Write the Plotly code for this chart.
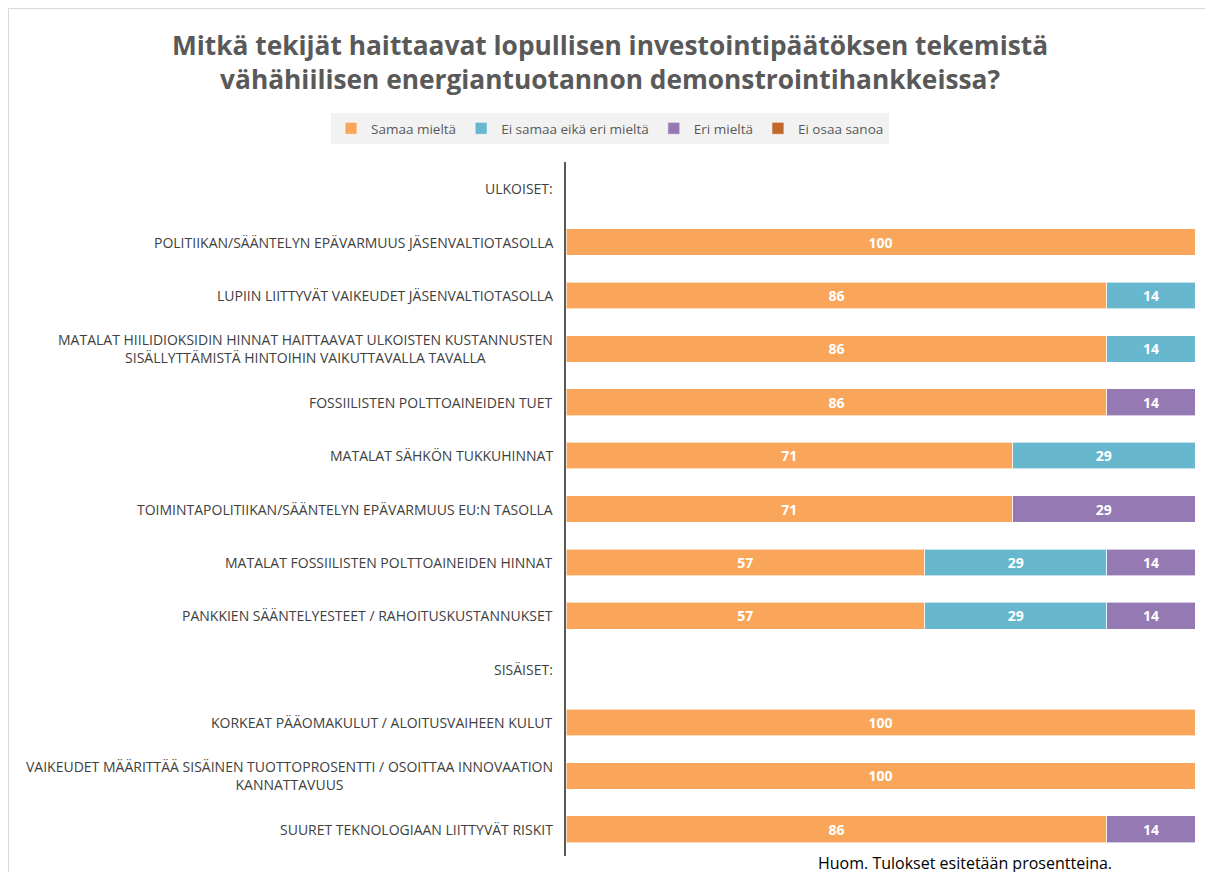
import plotly.graph_objects as go

categories = [
    "ULKOISET:",
    "POLITIIKAN/SÄÄNTELYN EPÄVARMUUS JÄSENVALTIOTASOLLA",
    "LUPIIN LIITTYVÄT VAIKEUDET JÄSENVALTIOTASOLLA",
    "MATALAT HIILIDIOKSIDIN HINNAT HAITTAAVAT ULKOISTEN KUSTANNUSTEN<br>SISÄLLYTTÄMISTÄ HINTOIHIN VAIKUTTAVALLA TAVALLA",
    "FOSSIILISTEN POLTTOAINEIDEN TUET",
    "MATALAT SÄHKÖN TUKKUHINNAT",
    "TOIMINTAPOLITIIKAN/SÄÄNTELYN EPÄVARMUUS EU:N TASOLLA",
    "MATALAT FOSSIILISTEN POLTTOAINEIDEN HINNAT",
    "PANKKIEN SÄÄNTELYESTEET / RAHOITUSKUSTANNUKSET",
    "SISÄISET:",
    "KORKEAT PÄÄOMAKULUT / ALOITUSVAIHEEN KULUT",
    "VAIKEUDET MÄÄRITTÄÄ SISÄINEN TUOTTOPROSENTTI / OSOITTAA INNOVAATION<br>KANNATTAVUUS",
    "SUURET TEKNOLOGIAAN LIITTYVÄT RISKIT",
]

samaa = [None, 100, 86, 86, 86, 71, 71, 57, 57, None, 100, 100, 86]
ei_samaa_eika = [None, None, 14, 14, None, 29, None, 29, 29, None, None, None, None]
eri = [None, None, None, None, 14, None, 29, 14, 14, None, None, None, 14]
ei_osaa = [None] * 13

series = [
    ("Samaa mieltä", samaa, "#F9A65A"),
    ("Ei samaa eikä eri mieltä", ei_samaa_eika, "#67B8CF"),
    ("Eri mieltä", eri, "#9579B3"),
    ("Ei osaa sanoa", ei_osaa, "#C0692A"),
]

FONT = "'Open Sans', Arial, sans-serif"

ids = list(range(len(categories)))

fig = go.Figure()
for name, vals, col in series:
    fig.add_trace(go.Bar(
        y=ids, x=vals, name=name, orientation="h",
        marker=dict(color=col, line=dict(color="rgba(255,255,255,0.6)", width=1)),
        texttemplate="<b>%{x}</b>", textposition="inside",
        insidetextanchor="middle",
        textfont=dict(color="white", size=14, family=FONT),
        hoverinfo="x+name",
    ))

OFF = 8  # page offset of the figure in the browser
W, H = 1213, 872
L, R, T, B = 566 - OFF, 1195 - OFF, 162 - OFF, 856 - OFF
pw, ph = R - L, B - T

def px_x(p):
    return (p - OFF - L) / pw

def px_y(p):
    return (B - (p - OFF)) / ph

annotations = []
for i, c in enumerate(categories):
    annotations.append(dict(
        x=px_x(555), xref="paper", y=i, yref="y", text=c, showarrow=False,
        xanchor="right", yanchor="middle", align="center",
        font=dict(size=14, color="#404040", family=FONT),
    ))
annotations.append(dict(
    x=px_x(816), xref="paper", y=px_y(850), yref="paper",
    text="Huom. Tulokset esitetään prosentteina.", showarrow=False,
    xanchor="left", yanchor="top", font=dict(size=16, color="#000000", family=FONT),
))
annotations.append(dict(
    x=px_x(610), xref="paper", y=px_y(62), yref="paper",
    text="<b>Mitkä tekijät haittaavat lopullisen investointipäätöksen tekemistä<br>vähähiilisen energiantuotannon demonstrointihankkeissa?</b>",
    showarrow=False, xanchor="center", yanchor="middle", align="center",
    font=dict(size=26.3, color="#595959", family=FONT),
))

fig.update_layout(
    width=W, height=H,
    margin=dict(l=L, r=W - R, t=T, b=H - B, autoexpand=False),
    paper_bgcolor="white", plot_bgcolor="white",
    barmode="stack", bargap=0.5,
    legend=dict(
        orientation="h", x=px_x(610), xanchor="center",
        y=px_y(113), yanchor="top", bgcolor="#F2F2F2",
        font=dict(size=13.5, color="#595959", family=FONT),
        traceorder="normal",
    ),
    xaxis=dict(range=[0, 100], visible=False),
    yaxis=dict(
        range=[len(categories) - 0.5, -0.5], showticklabels=False, showgrid=False,
        zeroline=False, showline=True, linecolor="#595959", linewidth=2, ticks="",
    ),
    annotations=annotations,
    shapes=[
        dict(type="line", xref="paper", yref="paper", x0=px_x(8.5), x1=px_x(1300),
             y0=px_y(8.5), y1=px_y(8.5), line=dict(color="#D9D9D9", width=1)),
        dict(type="line", xref="paper", yref="paper", x0=px_x(8.5), x1=px_x(8.5),
             y0=px_y(8.5), y1=px_y(900), line=dict(color="#D9D9D9", width=1)),
    ],
    showlegend=True,
)

fig.write_html("out.html")
